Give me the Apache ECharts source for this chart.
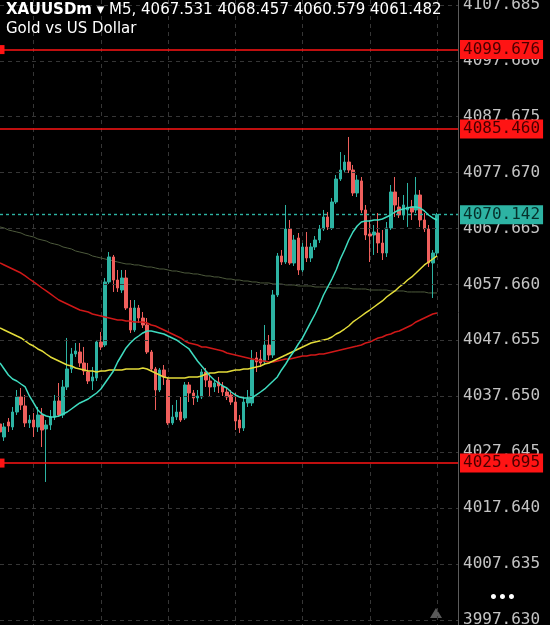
<!DOCTYPE html>
<html><head><meta charset="utf-8">
<script src="https://cdn.jsdelivr.net/npm/echarts@6/dist/echarts.min.js"></script>
<style>html,body{margin:0;padding:0;background:#000;}#c{width:550px;height:625px;}</style>
</head><body><div id="c"></div>
<script>
const opens = [
4032.69,4030.36,4033.05,4032.15,4034.83,4037.52,4035.91,4032.87,4033.40,4032.15,
4034.30,4031.79,4032.51,4033.94,4036.80,4034.30,4039.31,4042.53,4045.21,4045.57,
4043.60,4041.99,4040.38,4040.92,4047.36,4046.82,4058.10,4062.57,4058.45,4056.66,
4058.81,4053.44,4049.51,4053.44,4051.65,4050.40,4045.57,4042.53,4038.77,4042.35,
4040.56,4032.87,4033.94,4034.83,4033.76,4039.67,4038.23,4037.34,4037.52,4041.99,
4040.38,4039.31,4040.20,4039.49,4038.41,4037.88,4036.62,4033.40,4031.97,4036.45,
4036.45,4044.50,4044.32,4043.78,4046.82,4045.03,4055.77,4062.75,4061.67,4067.58,
4061.49,4065.97,4060.24,4064.36,4062.39,4064.36,4065.61,4067.58,4069.72,4067.76,
4072.41,4076.52,4078.13,4079.56,4078.13,4074.02,4076.17,4070.98,4066.68,4066.50,
4066.86,4065.07,4063.28,4067.76,4074.20,4071.51,4070.08,4070.98,4071.51,4070.98,
4073.66,4069.19,4067.58,4061.49,4063.28];
const closes = [
4031.26,4032.15,4032.33,4034.83,4037.52,4036.09,4032.87,4033.40,4032.15,4034.30,
4031.61,4032.51,4033.94,4036.80,4034.30,4039.31,4042.53,4045.21,4045.75,4043.60,
4042.17,4040.38,4041.10,4047.36,4046.47,4058.10,4062.57,4058.45,4057.02,4058.81,
4053.44,4049.51,4053.44,4051.65,4050.40,4045.57,4042.53,4038.77,4042.35,4041.10,
4032.87,4033.94,4034.83,4033.40,4039.67,4038.23,4037.34,4037.70,4041.99,4040.56,
4039.31,4040.02,4039.49,4038.41,4037.52,4036.62,4033.22,4031.97,4036.62,4037.16,
4044.14,4043.78,4043.60,4046.82,4045.03,4055.77,4062.75,4061.67,4067.58,4061.49,
4065.61,4060.24,4064.36,4062.39,4064.36,4065.61,4067.58,4069.72,4067.94,4072.41,
4076.52,4078.13,4079.56,4078.13,4074.02,4076.34,4070.98,4066.50,4066.32,4067.04,
4065.07,4063.28,4067.76,4074.20,4071.87,4070.08,4071.87,4071.51,4070.62,4073.66,
4069.19,4067.58,4061.49,4063.28,4070.142];
const lows = [
4029.83,4029.65,4031.26,4031.61,4034.30,4035.19,4032.15,4031.97,4030.36,4031.26,
4028.57,4022.31,4031.61,4033.40,4033.94,4033.76,4038.77,4041.81,4044.68,4042.89,
4041.45,4039.84,4038.77,4040.38,4045.93,4046.47,4057.74,4056.31,4056.31,4056.13,
4053.08,4048.97,4049.15,4050.76,4049.86,4045.21,4041.99,4035.19,4038.41,4039.67,
4032.51,4032.51,4033.40,4033.05,4033.40,4036.62,4036.09,4036.62,4037.16,4039.31,
4037.52,4038.41,4038.23,4037.70,4036.98,4036.09,4031.61,4031.08,4031.43,4035.73,
4035.91,4041.99,4042.89,4043.24,4044.14,4044.50,4055.41,4061.14,4061.32,4061.14,
4060.96,4059.35,4059.88,4061.67,4061.67,4063.82,4065.07,4067.22,4067.40,4067.40,
4072.05,4076.17,4077.78,4077.60,4073.48,4073.30,4070.44,4065.61,4061.67,4062.93,
4063.28,4062.03,4062.57,4067.40,4069.72,4069.55,4069.19,4067.94,4069.19,4070.44,
4067.94,4067.04,4060.78,4055.23,4062.75];
const highs = [
4033.76,4032.87,4033.76,4035.73,4038.77,4039.13,4037.88,4034.30,4034.66,4035.73,
4035.55,4033.40,4035.19,4037.88,4040.02,4040.56,4048.08,4046.29,4047.18,4047.18,
4046.47,4043.60,4042.89,4047.72,4049.15,4058.81,4063.46,4062.93,4060.24,4060.24,
4060.24,4054.87,4054.87,4053.98,4052.73,4051.65,4045.93,4042.89,4042.71,4043.24,
4040.92,4036.09,4036.98,4037.52,4040.20,4040.20,4038.77,4038.77,4042.53,4042.71,
4041.45,4040.56,4041.10,4040.20,4039.13,4038.77,4038.23,4034.30,4037.70,4038.77,
4045.93,4045.57,4045.93,4050.40,4048.61,4056.66,4063.28,4063.82,4071.87,4069.19,
4066.50,4066.86,4065.07,4067.04,4065.07,4066.32,4068.29,4070.98,4070.62,4073.12,
4077.24,4081.35,4080.82,4084.04,4079.03,4077.24,4076.88,4071.87,4069.19,4068.29,
4070.44,4067.40,4068.83,4075.45,4076.88,4073.30,4073.66,4075.81,4072.77,4076.88,
4074.55,4070.44,4068.29,4063.82,4070.44];
const maFast = [
4043.60,4042.53,4041.45,4040.74,4040.38,4039.84,4039.31,4037.70,4036.45,4035.19,
4034.48,4034.12,4033.94,4033.94,4034.12,4034.48,4034.83,4035.37,4035.91,4036.45,
4036.80,4037.16,4037.70,4038.23,4038.95,4040.02,4041.10,4042.17,4043.78,4045.03,
4046.29,4047.18,4047.90,4048.43,4048.97,4049.33,4049.33,4049.15,4048.97,4048.79,
4048.43,4048.08,4047.72,4047.18,4046.64,4046.11,4045.03,4043.96,4043.07,4042.17,
4041.28,4040.56,4040.02,4039.49,4039.13,4038.41,4037.88,4037.52,4037.34,4037.34,
4037.34,4037.88,4038.41,4038.95,4039.67,4040.38,4041.10,4042.35,4043.42,4044.68,
4045.75,4047.00,4048.08,4049.51,4050.94,4052.37,4053.98,4055.77,4057.20,4058.63,
4060.24,4062.21,4063.82,4065.61,4067.04,4068.11,4068.83,4069.01,4069.01,4069.19,
4069.19,4069.37,4069.72,4070.08,4070.62,4070.98,4071.16,4071.33,4071.51,4071.51,
4071.33,4070.80,4070.08,4069.55,4069.19];
const maYellow = [
4049.86,4049.51,4049.15,4048.79,4048.43,4048.08,4047.54,4047.00,4046.64,4046.11,
4045.75,4045.21,4044.68,4044.32,4043.96,4043.60,4043.24,4043.07,4042.71,4042.53,
4042.35,4042.17,4042.17,4041.99,4042.17,4042.17,4042.35,4042.35,4042.35,4042.35,
4042.53,4042.53,4042.53,4042.53,4042.71,4042.53,4042.17,4041.81,4041.45,4041.10,
4040.92,4040.92,4040.92,4040.92,4040.92,4041.10,4041.10,4041.10,4041.28,4041.63,
4041.81,4041.81,4041.99,4041.99,4041.99,4042.17,4042.35,4042.35,4042.53,4042.53,
4042.71,4042.89,4043.07,4043.42,4043.60,4043.96,4044.32,4044.68,4045.03,4045.39,
4045.75,4046.11,4046.47,4046.82,4047.18,4047.36,4047.54,4047.72,4047.90,4048.25,
4048.79,4049.15,4049.68,4050.22,4050.94,4051.47,4052.01,4052.55,4053.08,4053.62,
4054.16,4054.70,4055.41,4055.95,4056.49,4057.20,4057.74,4058.45,4058.99,4059.70,
4060.42,4061.14,4061.67,4062.21,4062.75];
const maRed = [
4061.49,4061.14,4060.78,4060.42,4060.06,4059.70,4059.17,4058.63,4058.10,4057.56,
4057.02,4056.49,4055.95,4055.41,4054.87,4054.52,4054.16,4053.80,4053.44,4053.08,
4052.91,4052.73,4052.37,4052.19,4052.01,4051.83,4051.65,4051.47,4051.29,4051.29,
4051.12,4051.12,4050.94,4050.94,4050.94,4050.76,4050.40,4050.22,4049.86,4049.51,
4049.15,4048.79,4048.43,4048.08,4047.54,4047.18,4047.00,4046.82,4046.47,4046.47,
4046.29,4046.11,4045.93,4045.75,4045.39,4045.21,4045.03,4044.86,4044.68,4044.50,
4044.32,4044.14,4043.96,4043.96,4043.78,4043.78,4043.96,4044.14,4044.32,4044.32,
4044.50,4044.68,4044.86,4044.86,4045.03,4045.03,4045.21,4045.21,4045.39,4045.57,
4045.75,4045.93,4046.11,4046.29,4046.47,4046.64,4046.82,4047.18,4047.36,4047.72,
4048.08,4048.25,4048.61,4048.79,4049.15,4049.33,4049.68,4050.04,4050.40,4050.94,
4051.29,4051.65,4052.01,4052.37,4052.55];
const maOlive = [
4067.94,4067.76,4067.40,4067.22,4067.04,4066.86,4066.50,4066.32,4066.15,4065.79,
4065.61,4065.43,4065.07,4064.89,4064.71,4064.36,4064.18,4064.00,4063.64,4063.46,
4063.28,4063.10,4062.75,4062.57,4062.39,4062.21,4062.03,4061.85,4061.67,4061.49,
4061.32,4061.32,4061.14,4061.14,4060.96,4060.78,4060.78,4060.60,4060.42,4060.42,
4060.24,4060.06,4060.06,4059.88,4059.70,4059.70,4059.53,4059.53,4059.35,4059.17,
4059.17,4058.99,4058.99,4058.81,4058.63,4058.63,4058.45,4058.45,4058.27,4058.27,
4058.10,4058.10,4057.92,4057.92,4057.92,4057.74,4057.74,4057.74,4057.56,4057.56,
4057.56,4057.38,4057.38,4057.38,4057.38,4057.20,4057.20,4057.20,4057.20,4057.02,
4057.02,4057.02,4057.02,4057.02,4056.84,4056.84,4056.84,4056.84,4056.66,4056.66,
4056.66,4056.66,4056.66,4056.49,4056.49,4056.49,4056.49,4056.31,4056.31,4056.31,
4056.31,4056.31,4056.13,4056.13,4056.13];
const gridTicks = [4107.685,4097.680,4087.675,4077.670,4067.665,4057.660,4047.655,4037.650,4027.645,4017.640,4007.635,3997.630];
const circleLevels = [4099.676, 4025.695];
const plainLevels = [4085.460];
const bidPrice = 4070.142;
const headerSymbol = 'XAUUSDm';
const headerRest = ' \u25BE M5, 4067.531 4068.457 4060.579 4061.482';
const headerSub = 'Gold vs US Dollar';
const yMin = 3996.72, yMax = 4108.55;
const slotCount = 110;

const categories = [];
for (let i = 0; i < slotCount; i++) categories.push(String(i));
const candles = opens.map((o, i) => [o, closes[i], lows[i], highs[i]]);

const BULL = '#2db3a3', BEAR = '#ef5f5c', LVL = '#ff1414';
const lblFont = {fontFamily: 'DejaVu Sans Mono', fontSize: 16};

const levelItems = [];
circleLevels.forEach(v => levelItems.push({yAxis: v, name: v.toFixed(3), symbol: ['emptyCircle','emptyCircle'], symbolSize: 9,
  itemStyle: {color: '#ffffff', borderColor: LVL, borderWidth: 2},
  lineStyle: {color: LVL, width: 1.6, type: 'solid'},
  label: Object.assign({backgroundColor: LVL, color: '#4a0000', padding: [2,3,1,3], distance: 2}, lblFont)}));
plainLevels.forEach(v => levelItems.push({yAxis: v, name: v.toFixed(3), symbol: 'none',
  lineStyle: {color: LVL, width: 1.6, type: 'solid'},
  label: Object.assign({backgroundColor: LVL, color: '#4a0000', padding: [2,3,1,3], distance: 2}, lblFont)}));
levelItems.push({yAxis: bidPrice, name: bidPrice.toFixed(3), symbol: 'none',
  lineStyle: {color: BULL, width: 1.4, type: [3,3]},
  label: Object.assign({backgroundColor: BULL, color: '#06302b', padding: [2,3,1,3], distance: 2}, lblFont)});

const chart = echarts.init(document.getElementById('c'), null, {renderer: 'canvas'});
chart.setOption({
  backgroundColor: '#000',
  animation: false,
  title: {
    left: 1, top: 0, padding: [1, 5], itemGap: 0,
    text: '{b|' + headerSymbol + '}' + headerRest,
    subtext: headerSub,
    textStyle: {color: '#fff', fontFamily: 'DejaVu Sans', fontSize: 15, fontWeight: 'normal', lineHeight: 19,
      rich: {b: {color: '#fff', fontFamily: 'DejaVu Sans', fontSize: 15, fontWeight: 'bold', lineHeight: 19}}},
    subtextStyle: {color: '#fff', fontFamily: 'DejaVu Sans', fontSize: 15, lineHeight: 19}
  },
  grid: {left: 0, right: 92, top: 0, bottom: 0, containLabel: false},
  xAxis: {
    type: 'category', data: categories, boundaryGap: false,
    axisLine: {show: false}, axisTick: {show: false}, axisLabel: {show: false},
    splitLine: {show: true, interval: (i) => (i - 8) % 16 === 0,
      lineStyle: {color: '#363636', width: 1, type: [4,4]}}
  },
  yAxis: {
    type: 'value', position: 'right', min: yMin, max: yMax, scale: true,
    axisLine: {show: true, lineStyle: {color: '#5c5c5c', width: 1}},
    axisTick: {show: false}, axisLabel: {show: false}, splitLine: {show: false}
  },
  graphic: [
    {type: 'text', left: 489, top: 591, style: {text: '\u2022\u2022\u2022', fill: '#fff', font: 'bold 14px DejaVu Sans'}},
    {type: 'polygon', shape: {points: [[430,618],[436,608],[442,618]]}, style: {fill: '#5a5a5a'}}
  ],
  series: [
    {name: 'grid', type: 'line', data: maOlive, symbol: 'none', z: 2,
      lineStyle: {color: '#4d5a3c', width: 1},
      markLine: {silent: true, symbol: 'none', animation: false, precision: 3,
        lineStyle: {color: '#363636', width: 1, type: [4,4]},
        label: Object.assign({position: 'end', distance: 5, color: '#c4c4c4', formatter: p => p.name}, lblFont),
        data: gridTicks.map(v => ({yAxis: v, name: v.toFixed(3)}))}},
    {name: 'price', type: 'candlestick', data: candles, barWidth: 3, z: 3,
      itemStyle: {color: BULL, color0: BEAR, borderColor: BULL, borderColor0: BEAR, borderWidth: 1}},
    {name: 'maRed', type: 'line', data: maRed, symbol: 'none', z: 4, lineStyle: {color: '#d01818', width: 1.5}},
    {name: 'maYellow', type: 'line', data: maYellow, symbol: 'none', z: 4, lineStyle: {color: '#e3dc3a', width: 1.5}},
    {name: 'maFast', type: 'line', data: maFast, symbol: 'none', z: 5, lineStyle: {color: '#3fdcc0', width: 1.5},
      markLine: {silent: true, symbol: 'none', animation: false, precision: 3,
        label: {position: 'end', formatter: p => p.name},
        data: levelItems}}
  ]
});
</script></body></html>
